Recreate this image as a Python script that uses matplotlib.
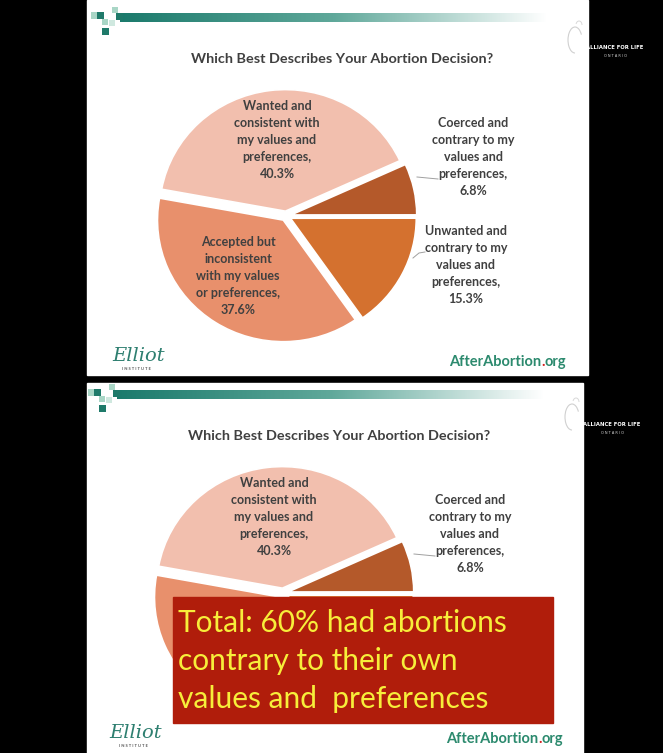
import numpy as np
import matplotlib
matplotlib.use("Agg")
import matplotlib.pyplot as plt
from matplotlib.patches import Rectangle, Arc
from matplotlib.colors import LinearSegmentedColormap

plt.rcParams['font.family'] = ['Lato', 'DejaVu Sans']

# ---------------- data ----------------
title = "Which Best Describes Your Abortion Decision?"
categories = ["Wanted and\nconsistent with\nmy values and\npreferences,",
              "Coerced and\ncontrary to my\nvalues and\npreferences,",
              "Unwanted and\ncontrary to my\nvalues and\npreferences,",
              "Accepted but\ninconsistent\nwith my values\nor preferences,"]
shares = [40.3, 6.8, 15.3, 37.6]
colors = ["#F2BFAE", "#B4592A", "#D4712F", "#E8906C"]
callout = "Total: 60% had abortions\ncontrary to their own\nvalues and  preferences"

# ---------------- layout (pixels, y down) ----------------
W, H = 663, 753
label_pos = [(277, 140), (473, 157), (466, 265), (238, 276)]
squares = [(91, 12, 7, "#A9D6C6"), (97, 12, 7, "#1F7A6A"), (102, 19, 6, "#A9D6C6"),
           (102, 28, 7, "#1F7A6A"), (112, 7, 6, "#A9D6C6"), (116, 13, 7, "#1F7A6A"),
           (109, 20, 6, "#CFE8DF")]

fig = plt.figure(figsize=(W / 100, H / 100), dpi=100)
fig.patch.set_facecolor("black")

bg = fig.add_axes([0, 0, 1, 1], zorder=0)
bg.set_xlim(0, W)
bg.set_ylim(H, 0)
bg.axis("off")

ov = fig.add_axes([0, 0, 1, 1], zorder=2)
ov.set_xlim(0, W)
ov.set_ylim(H, 0)
ov.axis("off")

teal = LinearSegmentedColormap.from_list("teal", ["#1B7A6C", "#5FA89A", "#FFFFFF"])
grad = np.linspace(0, 1, 256).reshape(1, -1)


def slide(x0, y0, x1, y1, dx, dy, hidden=()):
    bg.add_patch(Rectangle((x0, y0), x1 - x0, y1 - y0, color="white", zorder=0))
    for sx, sy, s, c in squares:
        bg.add_patch(Rectangle((sx + dx, sy + dy), s, s, color=c, lw=0, zorder=2))
    bg.imshow(grad, extent=[120 + dx, 547 + dx, 22 + dy, 13 + dy], cmap=teal,
              aspect="auto", zorder=1)
    bg.set_xlim(0, W)
    bg.set_ylim(H, 0)

    bg.text(342 + dx, 59 + dy, title, ha="center", va="center", fontsize=10.4,
            fontweight="bold", color="#404040")

    # Elliot Institute logo
    bg.text(112 + dx, 356 + dy, "Elliot", family="DejaVu Serif", style="italic",
            fontsize=14, color="#2E7F70", ha="left", va="center")
    bg.text(136 + dx, 369 + dy, "I N S T I T U T E", fontsize=3, color="#555555",
            ha="center", va="center", fontweight="bold")

    # AfterAbortion.org
    t1 = bg.text(449 + dx, 362 + dy, "AfterAbortion", fontsize=10.5, color="#2C8A6E",
                 ha="left", va="center", fontweight="bold")
    t2 = bg.annotate(".", xy=(1, 0), xycoords=t1, ha="left", va="bottom",
                     fontsize=10.5, color="#D42020", fontweight="bold")
    bg.annotate("org", xy=(1, 0), xycoords=t2, ha="left", va="bottom",
                fontsize=10.5, color="#2C8A6E", fontweight="bold")

    # Alliance for Life logo (partly on the black margin)
    bg.add_patch(Arc((575 + dx, 40 + dy), 14, 26, theta1=90, theta2=320,
                     color="#D0D0D0", lw=0.8, zorder=2))
    bg.add_patch(Arc((579 + dx, 25 + dy), 6, 8, theta1=200, theta2=360,
                     color="#D8D8D8", lw=0.7, zorder=2))
    bg.text(615 + dx, 47 + dy, "ALLIANCE FOR LIFE", fontsize=3.8, color="white",
            ha="center", va="center", family="DejaVu Sans", fontweight="bold")
    bg.text(615 + dx, 56 + dy, "O N T A R I O", fontsize=2.5, color="#DDDDDD",
            ha="center", va="center", family="DejaVu Sans")

    # pie
    cx, cy = 286 + dx, 216 + dy
    rx, ry = 125.8, 121.6
    w, h = 2.5 * rx, 2.5 * ry
    ax = fig.add_axes([(cx - w / 2) / W, 1 - (cy + h / 2) / H, w / W, h / H], zorder=1)
    ax.pie(shares, colors=colors, startangle=169.6, counterclock=False,
           explode=[0.04] * len(shares),
           wedgeprops=dict(edgecolor="white", linewidth=1.2))
    ax.set_aspect("auto")
    ax.set_xlim(-1.25, 1.25)
    ax.set_ylim(-1.25, 1.25)

    for i, ((lx, ly), cat, v) in enumerate(zip(label_pos, categories, shares)):
        if i in hidden:
            continue
        ov.text(lx + dx, ly + dy, f"{cat}\n{v:.1f}%", ha="center", va="center",
                fontsize=9, fontweight="bold", color="#404040", linespacing=1.5,
                zorder=3)

    # leader lines
    ov.plot([417 + dx, 438 + dx], [177 + dy, 179 + dy], color="#A0A0A0", lw=0.7, zorder=3)
    if 2 not in hidden:
        ov.plot([413 + dx, 419 + dx, 425 + dx], [258 + dy, 253 + dy, 252 + dy],
                color="#A0A0A0", lw=0.7, zorder=3)


slide(87, 0, 588, 375, 0, 0)
# on the second slide the lower labels sit under the callout box
slide(87, 383, 583, 753, -3, 377, hidden=(2, 3))

# callout box on the second slide
ov.add_patch(Rectangle((173, 597), 380, 126, color="#B01D0B", zorder=5))
ov.text(178, 661, callout, ha="left", va="center", fontsize=21.5, color="#F7EE3A",
        linespacing=1.42, zorder=6)

fig.savefig("out.png", dpi=100, facecolor=fig.get_facecolor())
